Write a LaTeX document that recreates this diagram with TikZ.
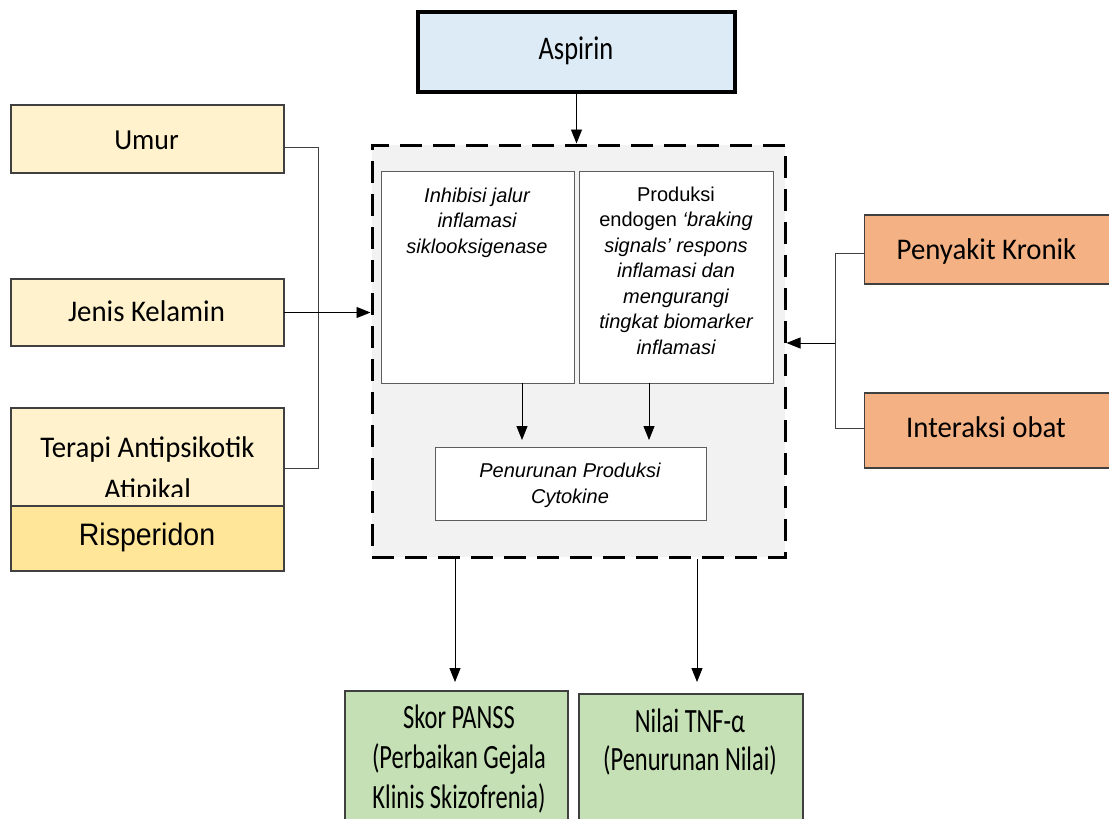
\documentclass[tikz,border=0pt]{standalone}
\usepackage{fontspec}
\usetikzlibrary{arrows.meta,calc}
\newfontfamily\calfont[FakeStretch=0.96]{Carlito}
\newfontfamily\calasp[FakeStretch=0.8]{Carlito}
\newfontfamily\calnarrow[FakeStretch=0.72]{Carlito}
\newfontfamily\arifont{Liberation Sans}
\newfontfamily\aririsp[FakeStretch=0.92]{Liberation Sans}
\definecolor{cYellow}{HTML}{FFF2CC}
\definecolor{cGold}{HTML}{FFE699}
\definecolor{cOrange}{HTML}{F4B183}
\definecolor{cGreen}{HTML}{C5E0B4}
\definecolor{cBlue}{HTML}{DDEBF7}
\definecolor{cGray}{HTML}{F2F2F2}
\definecolor{bordergray}{HTML}{404040}
\begin{document}
\begin{tikzpicture}[x=1pt,y=-1pt,
  box/.style={draw=bordergray, line width=1.1pt, inner sep=0pt, outer sep=0pt},
  wbox/.style={draw=bordergray!85, line width=1pt, fill=white, inner sep=0pt, outer sep=0pt},
  arr/.style={-{Triangle[length=14pt,width=11pt]}, line width=0.9pt},
  conn/.style={line width=0.9pt, draw=bordergray},
  txt/.style={inner sep=0pt, anchor=base, align=center},
  caltxt/.style={txt, font={\calfont\fontsize{30}{42}\selectfont}},
  bottxt/.style={txt, font={\calnarrow\fontsize{34}{40}\selectfont}},
  itxt/.style={txt, font={\arifont\itshape\fontsize{20}{25.5}\selectfont}}
]
\useasboundingbox (0,0) rectangle (1109,819);

% central dashed box
\node[draw=black, line width=3pt, dash pattern=on 22pt off 11pt, fill=cGray,
      minimum width=413pt, minimum height=412pt, inner sep=0pt] (dash) at (578.5,351) {};

% aspirin
\node[draw=black, line width=3.5pt, fill=cBlue, minimum width=317pt, minimum height=80pt, inner sep=0pt] (asp) at (576.5,52) {};
\node[txt, font={\calasp\fontsize{33}{38}\selectfont}] (tasp) at (576,59) {Aspirin};

% inner boxes
\node[wbox, minimum width=193pt, minimum height=212pt] (b1) at (477.5,277) {};
\node[wbox, minimum width=194pt, minimum height=212pt] (b2) at (676,277) {};
\node[wbox, minimum width=271pt, minimum height=73pt] (cyt) at (570.5,483.5) {};
\node[itxt] (tb1) at (477,253) {Inhibisi jalur\\inflamasi\\siklooksigenase};
\node[itxt] (tb2) at (676,354) {\upshape Produksi\\\upshape endogen \itshape ‘braking\\signals’ respons\\inflamasi dan\\mengurangi\\tingkat biomarker\\inflamasi};
\node[itxt] (tcyt) at (570,503) {Penurunan Produksi\\Cytokine};

% left boxes
\node[box, fill=cYellow, minimum width=273pt, minimum height=68pt] (umur) at (147.5,139) {};
\node[box, fill=cYellow, minimum width=273pt, minimum height=67pt] (jenis) at (147.5,312.5) {};
\node[box, fill=cYellow, minimum width=273pt, minimum height=98pt] (terapi) at (147.5,457) {};
\node[box, fill=cGold, minimum width=273pt, minimum height=65pt] (risp) at (147.5,538.5) {};
\node[txt, font={\calfont\fontsize{29}{40}\selectfont}] (tumur) at (146.5,149.5) {Umur};
\node[caltxt] (tjenis) at (146.5,321) {Jenis Kelamin};
\begin{scope}
  \clip (11,409) rectangle (284,496);
  \node[caltxt] (tterapi) at (147.5,499) {Terapi Antipsikotik\\Atipikal};
\end{scope}
\node[txt, font={\aririsp\fontsize{31}{38}\selectfont}] (trisp) at (147,545) {Risperidon};

% right boxes
\node[box, fill=cOrange, minimum width=246pt, minimum height=69pt] (peny) at (987.5,249.5) {};
\node[box, fill=cOrange, minimum width=246pt, minimum height=75pt] (inter) at (987.5,430.5) {};
\node[caltxt] (tpeny) at (986.5,259) {Penyakit Kronik};
\node[caltxt] (tinter) at (986,437) {Interaksi obat};

% bottom boxes
\node[box, fill=cGreen, minimum width=223pt, minimum height=140pt] (panss) at (456.5,761) {};
\node[box, fill=cGreen, minimum width=224pt, minimum height=140pt] (tnf) at (691,764) {};
\node[bottxt] (tpanss) at (459,808) {Skor PANSS\\(Perbaikan Gejala\\Klinis Skizofrenia)};
\node[bottxt] (ttnf) at (690,770) {Nilai TNF-α\\[-2pt](Penurunan Nilai)};

% connectors
\draw[arr] (asp.south) -- (asp.south |- dash.north);

\coordinate (lbus) at (318,0);
\coordinate (ua) at ([yshift=-8pt]umur.east);
\coordinate (ta) at ([yshift=-11pt]terapi.east);
\draw[conn] (ua) -- (ua -| lbus) -- (ta -| lbus) -- (ta);
\draw[arr] (jenis.east) -- (jenis.east -| dash.west);

\coordinate (rbus) at (835,0);
\coordinate (pa) at ([yshift=-3.5pt]peny.west);
\coordinate (ia) at ([yshift=2.5pt]inter.west);
\draw[conn] (pa) -- (pa -| rbus) -- (ia -| rbus) -- (ia);
\coordinate (rarr) at (835,343);
\draw[arr] (rarr) -- (rarr -| dash.east);

\coordinate (a1) at (522,0);
\coordinate (a2) at (649,0);
\draw[arr, shorten >=7pt] (a1 |- b1.south) -- (a1 |- cyt.north);
\draw[arr, shorten >=7pt] (a2 |- b2.south) -- (a2 |- cyt.north);

\coordinate (d1) at (455,0);
\coordinate (d2) at (697,0);
\draw[arr, shorten >=9pt] (d1 |- dash.south) -- (d1 |- panss.north);
\draw[arr, shorten >=12pt] (d2 |- dash.south) -- (d2 |- tnf.north);
\end{tikzpicture}
\end{document}
